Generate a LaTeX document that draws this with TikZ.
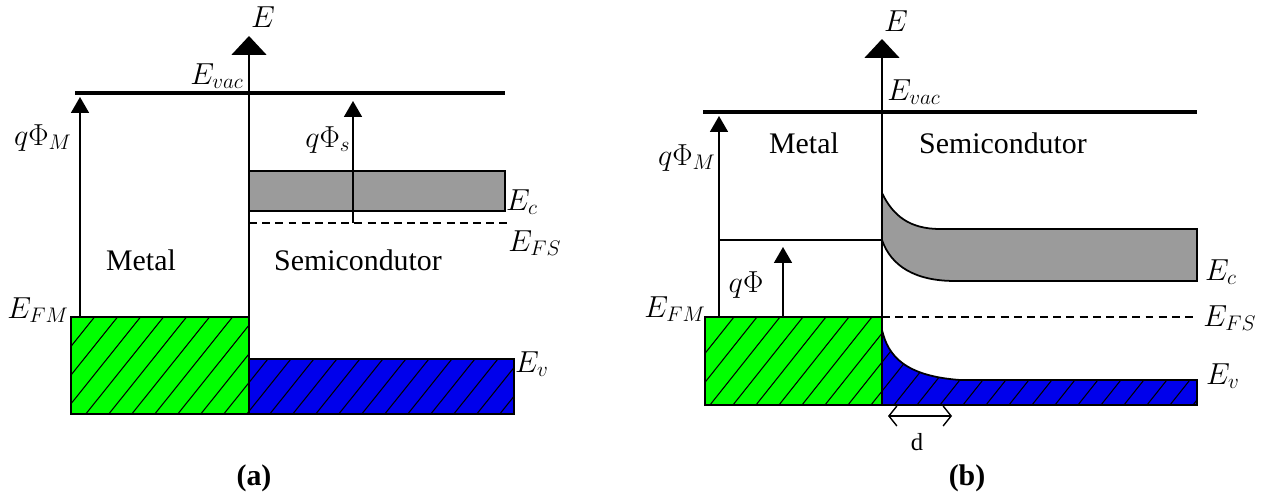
\documentclass[tikz,border=0pt]{standalone}
\usepackage{fontspec}
\setmainfont{Liberation Serif}
\usetikzlibrary{positioning,arrows.meta}
\definecolor{cMetal}{RGB}{0,255,0}
\definecolor{cVal}{RGB}{0,0,235}
\definecolor{cCond}{RGB}{155,155,155}

\begin{document}
\begin{tikzpicture}[x=0.02cm,y=-0.02cm,
   lvl/.style={line width=1pt},
   vac/.style={line width=2.3pt},
   eaxis/.style={line width=1pt,-{Triangle[width=7mm,length=3.8mm]}},
   wf/.style={line width=1pt,-{Triangle[width=3.6mm,length=3.2mm]}},
   fermi/.style={line width=0.9pt,dash pattern=on 4.5pt off 3pt},
   hatch/.style={line width=0.6pt},
   lab/.style={font=\fontsize{16.5}{19}\selectfont,inner sep=0pt},
   txt/.style={font=\fontsize{17}{20}\selectfont,inner sep=0pt}]
  \useasboundingbox (0,0) rectangle (1269,496);

  % ---------- (a) before contact ----------
  \coordinate (aO) at (249,414);  \coordinate (aT) at (249,36);
  \coordinate (aVl) at (75,93);   \coordinate (aVr) at (505,93);
  \coordinate (aMb) at (80,317);  \coordinate (aMt) at (80,97);
  \coordinate (aSb) at (353,223); \coordinate (aSt) at (353,101);
  \coordinate (aFl) at (249,223); \coordinate (aFr) at (511,223);

  \fill[cMetal] (71,317) rectangle (249,414);
  \fill[cVal] (249,359) rectangle (514,414);
  \begin{scope}
    \clip (71,317) rectangle (249,414) (249,359) rectangle (514,414);
    \foreach \x in {-80,-57,...,520}
      \draw[hatch] (\x,420) -- ++(125,-156);
  \end{scope}
  \draw[lvl] (71,317) rectangle (249,414);
  \draw[lvl] (249,359) rectangle (514,414);
  \fill[cCond] (249,171) rectangle (505,211);
  \draw[lvl] (249,171) rectangle (505,211);

  \draw[vac] (aVl) -- (aVr);
  \draw[fermi] (aFl) -- (aFr);
  \draw[eaxis] (aO) -- (aT);
  \draw[wf] (aMb) -- (aMt);
  \draw[wf] (aSb) -- (aSt);

  \node[lab] (aE) at (263,17) {$E$};
  \node[lab] (aEvac) at (217,76) {$E_{vac}$};
  \node[lab] (aPhiM) at (43,138) {$q\Phi_M$};
  \node[lab] (aPhiS) at (328,140) {$q\Phi_s$};
  \node[lab] (aEc) at (522,202) {$E_c$};
  \node[lab] (aEF) at (535,243) {$E_{FS}$};
  \node[lab] (aEFM) at (38,310) {$E_{FM}$};
  \node[lab] (aEv) at (532,364) {$E_v$};
  \node[txt] (aMet) at (141,260) {Metal};
  \node[txt] (aSem) at (358,260) {Semicondutor};
  \node[txt] (aCap) at (254,478) {\textbf{(a)}};

  % ---------- (b) after contact ----------
  \coordinate (bO) at (882,405);  \coordinate (bT) at (882,39);
  \coordinate (bVl) at (703,112); \coordinate (bVr) at (1197,112);
  \coordinate (bMb) at (719,317); \coordinate (bMt) at (719,116);
  \coordinate (bBl) at (719,240); \coordinate (bBr) at (882,240);
  \coordinate (bQb) at (783,317); \coordinate (bQt) at (783,247);
  \coordinate (bFl) at (882,317); \coordinate (bFr) at (1197,317);
  \coordinate (bDl) at (888,416); \coordinate (bDr) at (952,416);

  \fill[cMetal] (705,317) rectangle (882,405);
  \fill[cVal] (882,330) .. controls (888,356) and (905,376) .. (960,380)
     -- (1197,380) -- (1197,405) -- (882,405) -- cycle;
  \begin{scope}
    \clip (705,317) rectangle (882,405)
      (882,330) .. controls (888,356) and (905,376) .. (960,380)
      -- (1197,380) -- (1197,405) -- (882,405) -- cycle;
    \foreach \x in {660,683,...,1200}
      \draw[hatch] (\x,410) -- ++(105,-132);
  \end{scope}
  \draw[lvl] (705,317) rectangle (882,405);
  \draw[lvl] (882,330) .. controls (888,356) and (905,376) .. (960,380)
     -- (1197,380) -- (1197,405) -- (882,405);
  \filldraw[lvl,fill=cCond] (882,193) .. controls (893,216) and (910,229) .. (940,229)
     -- (1197,229) -- (1197,281) -- (955,281)
     .. controls (915,281) and (891,266) .. (882,240) -- cycle;

  \draw[vac] (bVl) -- (bVr);
  \draw[lvl] (bBl) -- (bBr);
  \draw[fermi] (bFl) -- (bFr);
  \draw[eaxis] (bO) -- (bT);
  \draw[wf] (bMb) -- (bMt);
  \draw[wf] (bQb) -- (bQt);
  \draw[line width=0.8pt,{Straight Barb[length=1.6mm,width=4mm]}-{Straight Barb[length=1.6mm,width=4mm]}] (bDl) -- (bDr);

  \node[lab] (bE) at (896,21) {$E$};
  \node[lab] (bEvac) at (914,92) {$E_{vac}$};
  \node[lab] (bPhiM) at (687,158) {$q\Phi_M$};
  \node[lab] (bPhi) at (746,285) {$q\Phi$};
  \node[lab] (bEFM) at (675,309) {$E_{FM}$};
  \node[lab] (bEc) at (1221,272) {$E_c$};
  \node[lab] (bEF) at (1230,318) {$E_{FS}$};
  \node[lab] (bEv) at (1223,376) {$E_v$};
  \node[txt] (bMet) at (804,143) {Metal};
  \node[txt] (bSem) at (1003,143) {Semicondutor};
  \node[txt,font=\fontsize{14}{16}\selectfont] (bd) at (917,442) {d};
  \node[txt] (bCap) at (967,478) {\textbf{(b)}};
\end{tikzpicture}
\end{document}
